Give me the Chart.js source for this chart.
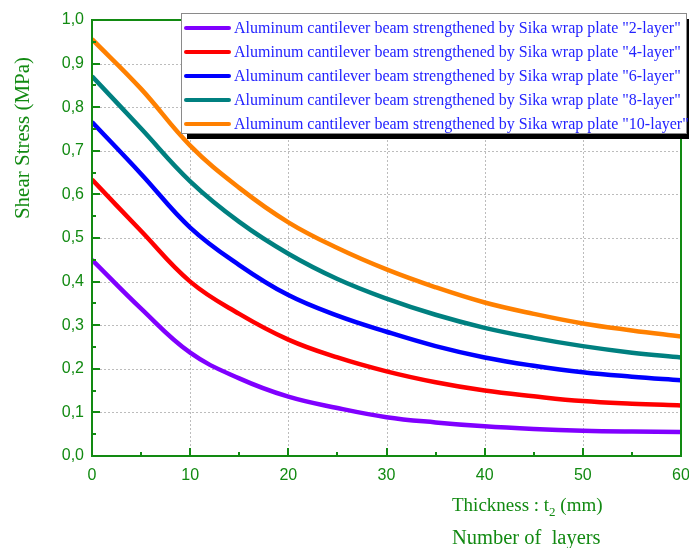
<!DOCTYPE html>
<html>
<head>
<meta charset="utf-8">
<script src="https://cdn.jsdelivr.net/npm/chart.js@4.4.0/dist/chart.umd.min.js"></script>
<style>
    body { margin: 0; background: #ffffff; }
    canvas { display: block; }
</style>
</head>
<body>
<canvas id="shearChart" width="689" height="548"></canvas>
<script>
// Thickness values (mm) along the x axis
const thickness = [0, 5, 10, 15, 20, 25, 30, 35, 40, 45, 50, 55, 60];

// Shear stress (MPa) for each layer count
const layer2 = [0.450, 0.338, 0.237, 0.178, 0.136, 0.110, 0.089, 0.077, 0.068, 0.062, 0.058, 0.056, 0.055];
const layer4 = [0.634, 0.516, 0.400, 0.326, 0.267, 0.226, 0.194, 0.169, 0.150, 0.137, 0.126, 0.120, 0.116];
const layer6 = [0.766, 0.647, 0.524, 0.438, 0.369, 0.322, 0.285, 0.252, 0.226, 0.207, 0.192, 0.182, 0.174];
const layer8 = [0.871, 0.751, 0.630, 0.537, 0.464, 0.406, 0.361, 0.324, 0.294, 0.271, 0.252, 0.237, 0.226];
const layer10 = [0.956, 0.842, 0.712, 0.615, 0.536, 0.477, 0.428, 0.387, 0.352, 0.326, 0.304, 0.288, 0.274];

const seriesLabels = [
    'Aluminum cantilever beam strengthened by Sika wrap plate "2-layer"',
    'Aluminum cantilever beam strengthened by Sika wrap plate "4-layer"',
    'Aluminum cantilever beam strengthened by Sika wrap plate "6-layer"',
    'Aluminum cantilever beam strengthened by Sika wrap plate "8-layer"',
    'Aluminum cantilever beam strengthened by Sika wrap plate "10-layer"'
];
const seriesColors = ['#8000ff', '#ff0000', '#0000ff', '#008080', '#ff8000'];
const seriesData = [layer2, layer4, layer6, layer8, layer10];

const axisGreen = '#128a12';
const serif = '"Liberation Serif", "Times New Roman", serif';
const sans = '"Liberation Sans", Arial, sans-serif';

// Dotted grid drawn under the curves
const gridPlugin = {
    id: 'dottedGrid',
    beforeDatasetsDraw(chart) {
        const ctx = chart.ctx;
        const area = chart.chartArea;
        const xs = chart.scales.x;
        const ys = chart.scales.y;
        ctx.save();
        ctx.strokeStyle = '#bcbcbc';
        ctx.lineWidth = 1;
        ctx.setLineDash([2, 2]);
        xs.ticks.forEach(t => {
            const px = Math.round(xs.getPixelForValue(t.value)) + 0.5;
            ctx.beginPath();
            ctx.moveTo(px, area.top);
            ctx.lineTo(px, area.bottom);
            ctx.stroke();
        });
        ys.ticks.forEach(t => {
            const py = Math.round(ys.getPixelForValue(t.value)) + 0.5;
            ctx.beginPath();
            ctx.moveTo(area.left, py);
            ctx.lineTo(area.right, py);
            ctx.stroke();
        });
        ctx.restore();
    }
};

// Frame, inner tick marks, axis titles and the boxed legend
const decorPlugin = {
    id: 'decor',
    afterDraw(chart) {
        const ctx = chart.ctx;
        const area = chart.chartArea;
        const xs = chart.scales.x;
        const ys = chart.scales.y;

        ctx.save();
        ctx.strokeStyle = axisGreen;
        ctx.lineWidth = 2;
        ctx.strokeRect(area.left, area.top, area.right - area.left, area.bottom - area.top);

        // inner ticks on bottom axis
        for (let v = 0; v <= 60; v += 5) {
            const px = Math.round(xs.getPixelForValue(v));
            const len = v % 10 === 0 ? 8 : 4;
            ctx.beginPath();
            ctx.moveTo(px, area.bottom);
            ctx.lineTo(px, area.bottom - len);
            ctx.stroke();
        }
        // inner ticks on left axis
        for (let i = 0; i <= 20; i++) {
            const py = Math.round(ys.getPixelForValue(i * 0.05));
            const len = i % 2 === 0 ? 8 : 4;
            ctx.beginPath();
            ctx.moveTo(area.left, py);
            ctx.lineTo(area.left + len, py);
            ctx.stroke();
        }

        // y axis title
        ctx.fillStyle = axisGreen;
        ctx.font = '21px ' + serif;
        ctx.textAlign = 'center';
        ctx.textBaseline = 'middle';
        ctx.save();
        ctx.translate(23, 138);
        ctx.rotate(-Math.PI / 2);
        ctx.fillText('Shear Stress (MPa)', 0, 0);
        ctx.restore();

        // x axis titles
        ctx.textAlign = 'left';
        ctx.textBaseline = 'alphabetic';
        ctx.font = '19px ' + serif;
        let tx = 452;
        const part1 = 'Thickness : t';
        ctx.fillText(part1, tx, 511);
        tx += ctx.measureText(part1).width;
        ctx.font = '13px ' + serif;
        ctx.fillText('2', tx, 516);
        tx += ctx.measureText('2').width;
        ctx.font = '19px ' + serif;
        ctx.fillText(' (mm)', tx, 511);
        ctx.font = '20.5px ' + serif;
        ctx.fillText('Number of  layers', 452, 544);

        // legend box with shadow
        const bx = 181, by = 13, bw = 505, bh = 120;
        ctx.fillStyle = '#000000';
        ctx.fillRect(bx + 6, by + 6, bw, bh);
        ctx.fillStyle = '#ffffff';
        ctx.fillRect(bx, by, bw, bh);
        ctx.strokeStyle = '#8a8a8a';
        ctx.lineWidth = 1;
        ctx.strokeRect(bx + 0.5, by + 0.5, bw, bh);

        ctx.font = '16px ' + serif;
        ctx.textBaseline = 'middle';
        seriesLabels.forEach((label, i) => {
            const ry = 28 + i * 24;
            ctx.strokeStyle = seriesColors[i];
            ctx.lineWidth = 4;
            ctx.lineCap = 'round';
            ctx.beginPath();
            ctx.moveTo(186, ry);
            ctx.lineTo(229, ry);
            ctx.stroke();
            ctx.fillStyle = '#2323ff';
            ctx.fillText(label, 234, ry + 1);
        });
        ctx.restore();
    }
};

new Chart(document.getElementById('shearChart'), {
    type: 'line',
    data: {
        labels: thickness,
        datasets: seriesData.map((values, i) => ({
            label: seriesLabels[i],
            data: values.map((v, j) => ({ x: thickness[j], y: v })),
            borderColor: seriesColors[i],
            backgroundColor: seriesColors[i],
            borderWidth: 4.5,
            pointRadius: 0,
            tension: 0.4,
            fill: false
        }))
    },
    options: {
        responsive: false,
        animation: false,
        layout: { padding: { top: 20, right: 8, left: 0, bottom: 0 } },
        plugins: {
            legend: { display: false },
            tooltip: { enabled: false }
        },
        scales: {
            x: {
                type: 'linear',
                min: 0,
                max: 60,
                afterFit: scale => {
                    scale.height = 92;
                    scale.paddingLeft = 0;
                    scale.paddingRight = 0;
                },
                ticks: {
                    stepSize: 10,
                    color: axisGreen,
                    font: { family: sans, size: 16 },
                    padding: 10
                },
                grid: { display: false, drawTicks: false },
                border: { display: false }
            },
            y: {
                min: 0,
                max: 1,
                afterFit: scale => {
                    scale.width = 92;
                    scale.paddingTop = 0;
                    scale.paddingBottom = 0;
                },
                ticks: {
                    stepSize: 0.1,
                    color: axisGreen,
                    font: { family: sans, size: 16 },
                    padding: 8,
                    callback: v => v.toFixed(1).replace('.', ',')
                },
                grid: { display: false, drawTicks: false },
                border: { display: false }
            }
        }
    },
    plugins: [gridPlugin, decorPlugin]
});
</script>
</body>
</html>
